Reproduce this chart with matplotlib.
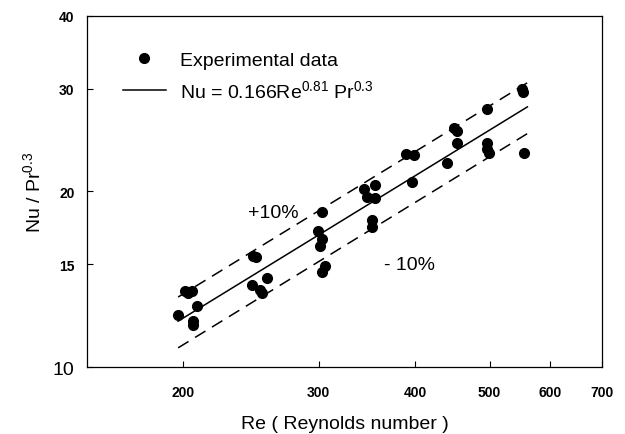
import matplotlib
matplotlib.use('Agg')
import numpy as np
import matplotlib.pyplot as plt
from matplotlib.ticker import FixedLocator, NullLocator, FixedFormatter

plt.rcParams['font.family'] = ['Liberation Sans', 'DejaVu Sans']
plt.rcParams['mathtext.default'] = 'regular'

# experimental points (Re, Nu/Pr^0.3)
Re = [197, 201, 203, 205.5, 208.5, 206, 206,
      246.5, 249, 246, 257, 251.5, 253,
      303, 299, 302.5, 301, 305.5, 303,
      344, 354.5, 347, 354.5, 352, 352,
      390, 399.5, 397, 440, 450, 454, 453,
      497, 497, 497, 499.5, 551, 552, 555]
Nu = [12.3, 13.5, 13.4, 13.5, 12.7, 12.0, 11.8,
      15.5, 15.45, 13.85, 14.2, 13.55, 13.4,
      18.45, 17.1, 16.6, 16.1, 14.9, 14.55,
      20.2, 20.5, 19.6, 19.5, 17.9, 17.4,
      23.2, 23.1, 20.8, 22.4, 25.7, 25.4, 24.2,
      27.7, 24.2, 23.7, 23.3, 30.0, 29.6, 23.3]

# correlation Nu = 0.166 Re^0.81 Pr^0.3, +-10 %
C = 0.166
n_exp = 0.81
Re_fit = np.array([197, 560])
band = 0.10

x_ticks = [200, 300, 400, 500, 600, 700]
y_ticks = [10, 15, 20, 30, 40]

fig = plt.figure(figsize=(6.25, 4.35), dpi=100)
ax = fig.add_axes([0.1392, 0.154, 0.824, 0.807])
ax.set_xscale('log')
ax.set_yscale('log')

fit = C * Re_fit ** n_exp
ax.plot(Re, Nu, 'o', color='black', markersize=7, linestyle='none',
        label='Experimental data', zorder=3)
ax.plot(Re_fit, fit, '-', color='black', linewidth=1.1,
        label=r'Nu = 0.166Re$^{0.81}$ Pr$^{0.3}$')
ax.plot(Re_fit, fit * (1 + band), color='black', linewidth=1.1, dashes=(8, 5))
ax.plot(Re_fit, fit * (1 - band), color='black', linewidth=1.1, dashes=(8, 5))

ax.text(262, 18.4, '+10%', fontsize=14, ha='center', va='center')
ax.text(393, 15.0, '- 10%', fontsize=14, ha='center', va='center')

ax.set_xlim(150, 700)
ax.set_ylim(10, 40)

ax.xaxis.set_major_locator(FixedLocator(x_ticks))
ax.xaxis.set_minor_locator(NullLocator())
ax.xaxis.set_major_formatter(FixedFormatter([str(v) for v in x_ticks]))
ax.yaxis.set_major_locator(FixedLocator(y_ticks))
ax.yaxis.set_minor_locator(NullLocator())
ax.yaxis.set_major_formatter(FixedFormatter([str(v) for v in y_ticks]))

ax.tick_params(axis='x', direction='in', length=4, width=0.8, pad=13, labelsize=10)
ax.tick_params(axis='y', direction='in', length=4, width=0.8, pad=9, labelsize=10)
for lab in ax.get_xticklabels() + ax.get_yticklabels():
    lab.set_fontweight('bold')
ylabs = ax.get_yticklabels()
ylabs[0].set_fontweight('normal')
ylabs[0].set_fontsize(14)

for sp in ax.spines.values():
    sp.set_linewidth(0.9)

ax.set_xlabel('Re ( Reynolds number )', fontsize=14, labelpad=11.5)
ax.set_ylabel(r'Nu / Pr$^{0.3}$', fontsize=14, labelpad=6.5)

ax.legend(loc='upper left', bbox_to_anchor=(0.036, 0.95), frameon=False,
          fontsize=14, handlelength=2.2, handletextpad=0.75, labelspacing=0.55,
          numpoints=1)

plt.savefig('out.png', dpi=100)
plt.close()
